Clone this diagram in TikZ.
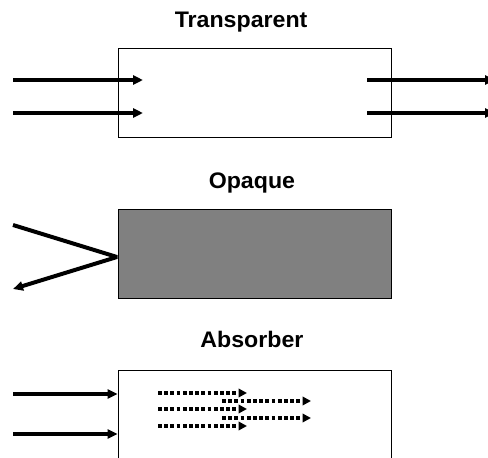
\documentclass[tikz,border=0pt]{standalone}
\usepackage{fontspec}
\setmainfont{Liberation Sans}
\usepackage{tikz}
\usetikzlibrary{arrows.meta,positioning}

\begin{document}
\begin{tikzpicture}[x=1pt, y=-1pt, node distance=20pt,
    slab/.style={rectangle,draw,line width=0.9pt,minimum width=273pt,minimum height=89pt,inner sep=0pt},
    heading/.style={font=\fontsize{22.5}{26}\selectfont\bfseries,inner sep=0pt,text depth=0pt,xscale=1.03},
    ray/.style={line width=4pt,line join=bevel,-{Triangle[length=10pt,width=9pt]}},
    faint/.style={line width=3.4pt,dash pattern=on 3.8pt off 2.4pt,-{Triangle[length=8.5pt,width=8.5pt]}}]
    \clip (0,0) rectangle (488,458);

    % transparent block: rays go straight through
    \node[slab] (clear) at (254.5,92.5) {};
    \node[heading] (clearlbl) [above=of clear, xshift=-13pt] {Transparent};
    \coordinate (cin1) at (13,80);
    \coordinate (cin2) at (13,113);
    \coordinate (cout1) at (367,80);
    \coordinate (cout2) at (367,113);
    \draw[ray] (cin1) -- ++(130,0);
    \draw[ray] (cin2) -- ++(130,0);
    \draw[ray] (cout1) -- ++(128,0);
    \draw[ray] (cout2) -- ++(128,0);

    % opaque block: ray bounces off the face
    \node[slab,fill=black!50] (dense) at (254.5,253.5) {};
    \node[heading] (denselbl) [above=of dense, xshift=-2.5pt] {Opaque};
    \coordinate (din) at (13,225);
    \coordinate (dhit) at (117,257);
    \coordinate (dout) at (13,289);
    \draw[ray] (din) -- (dhit) -- (dout);

    % absorber block: rays enter and fade out
    \node[slab] (sink) at (254.5,414.5) {};
    \node[heading] (sinklbl) [above=22pt of sink, xshift=-2.5pt] {Absorber};
    \coordinate (ain1) at (13,394);
    \coordinate (ain2) at (13,434);
    \draw[ray] (ain1) -- (ain1 -| sink.west);
    \draw[ray] (ain2) -- (ain2 -| sink.west);
    \foreach \y in {393,409,426}
        \draw[faint] (158,\y) -- (247,\y);
    \foreach \y in {401,418}
        \draw[faint] (222,\y) -- (311,\y);
\end{tikzpicture}
\end{document}
